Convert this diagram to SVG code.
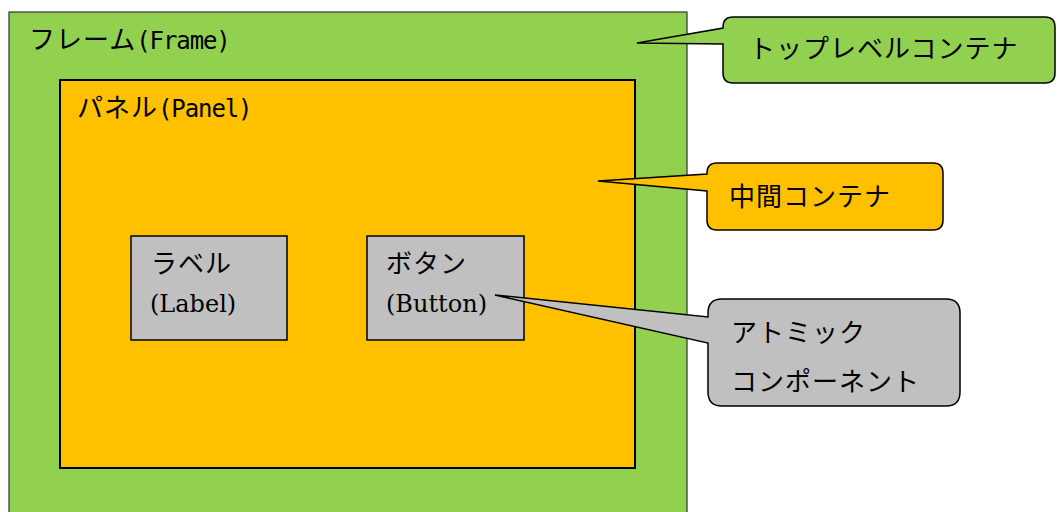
<svg xmlns="http://www.w3.org/2000/svg" width="1057" height="512" viewBox="0 0 1057 512">
<style>
.jp{font-family:"Noto Sans CJK JP","Noto Sans",sans-serif;font-size:26px;letter-spacing:1px;fill:#000}
.mono{font-family:"DejaVu Sans Mono","Liberation Mono",monospace;font-size:24px;letter-spacing:-1.1px;fill:#000}
.lat{font-family:"DejaVu Serif","Liberation Serif",serif;font-size:24px;letter-spacing:0;fill:#000}
.box{stroke:#000;stroke-width:1.5}
.call{stroke:#000;stroke-width:1.5;stroke-linejoin:miter}
</style>
<rect width="1057" height="512" fill="#fff"/>
<g id="frame">
<rect x="9" y="12" width="678" height="520" fill="#92D050" stroke="#333" stroke-width="1.2"/>
<text x="29" y="49" class="jp">フレーム<tspan class="mono">(Frame)</tspan></text>
</g>
<g id="panel">
<rect x="60" y="80" width="575" height="388" fill="#FFC000" stroke="#000" stroke-width="2"/>
<text x="77" y="117" class="jp">パネル<tspan class="mono">(Panel)</tspan></text>
</g>
<g id="label">
<rect x="131" y="236" width="156" height="104" fill="#C0C0C0" class="box"/>
<text x="151" y="273" class="jp">ラベル</text>
<text x="150" y="312" class="lat">(Label)</text>
</g>
<g id="button">
<rect x="367" y="236" width="157" height="104" fill="#C0C0C0" class="box"/>
<text x="386" y="273" class="jp">ボタン</text>
<text x="386" y="312" class="lat">(Button)</text>
</g>
<g id="connectors">
<path id="callout-top" class="call" fill="#92D050" d="M733,17 H1045 Q1055,17 1055,27 V73 Q1055,83 1045,83 H733 Q723,83 723,73 V44 L637,43 L723,28 V27 Q723,17 733,17 Z"/>
<path id="callout-mid" class="call" fill="#FFC000" d="M717,163 H933 Q943,163 943,173 V220 Q943,230 933,230 H717 Q707,230 707,220 V191 L598,181 L707,174 V173 Q707,163 717,163 Z"/>
<path id="callout-atomic" class="call" fill="#C0C0C0" d="M722,299 H946 Q960,299 960,313 V392 Q960,406 946,406 H722 Q708,406 708,392 V343 L495,295 L708,317 V313 Q708,299 722,299 Z"/>
</g>
<g id="callout-top-text">
<text x="749" y="58" class="jp">トップレベルコンテナ</text>
</g>
<g id="callout-mid-text">
<text x="729" y="206" class="jp">中間コンテナ</text>
</g>
<g id="callout-atomic-text">
<text x="731" y="342" class="jp">アトミック</text>
<text x="731" y="391" class="jp">コンポーネント</text>
</g>
</svg>
